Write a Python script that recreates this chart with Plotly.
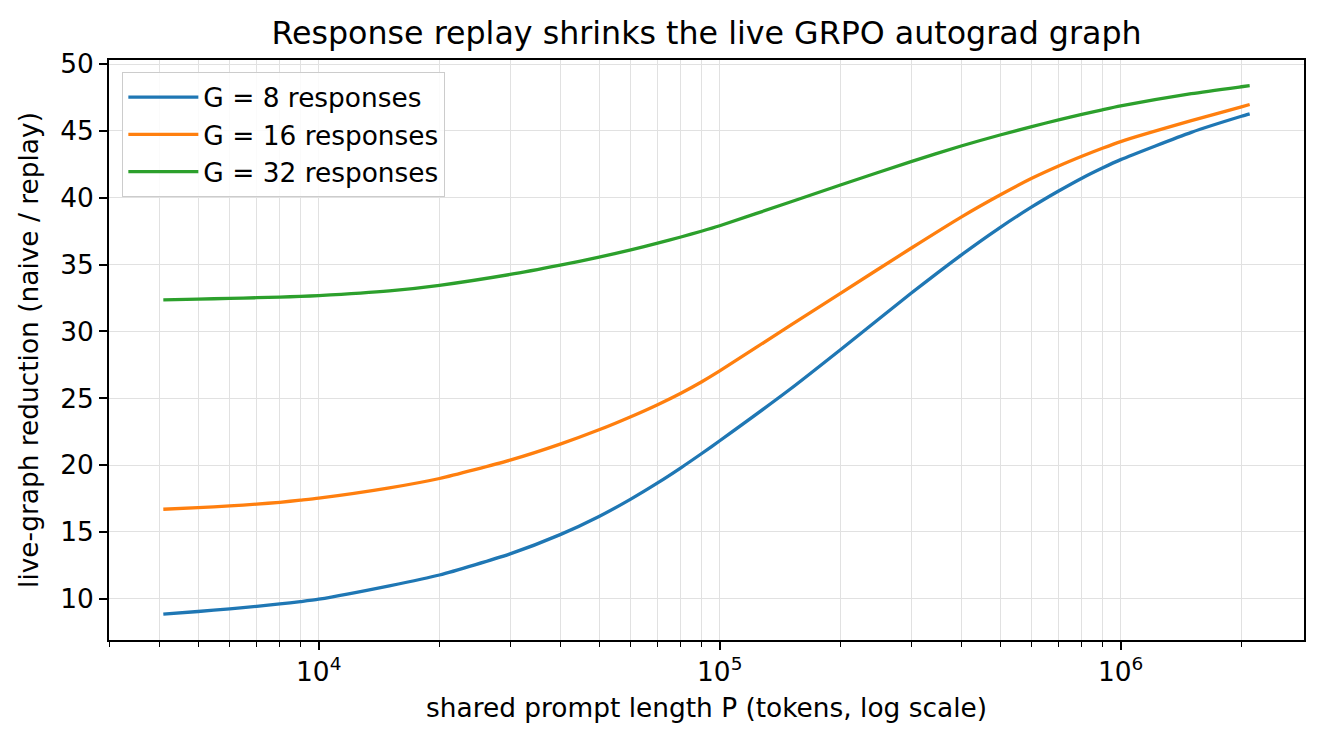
import plotly.graph_objects as go


# shared prompt length P (tokens)
prompt_len = [4096, 5000, 6000, 7000, 8000, 9000, 10000, 15000, 20000, 30000,
              40000, 50000, 60000, 70000, 80000, 90000, 100000, 150000, 200000, 300000,
              400000, 500000, 600000, 700000, 800000, 900000, 1000000, 1500000, 2000000, 2097152]

# live-graph reduction (naive / replay)
g8 = [8.85, 9.05, 9.25, 9.44, 9.62, 9.79, 9.97, 10.97, 11.78, 13.36,
      14.8, 16.16, 17.46, 18.67, 19.8, 20.85, 21.82, 25.69, 28.63, 32.85,
      35.71, 37.77, 39.31, 40.5, 41.46, 42.22, 42.85, 44.89, 46.09, 46.27]
g16 = [16.7, 16.82, 16.95, 17.08, 17.22, 17.38, 17.53, 18.3, 19.0, 20.37,
       21.57, 22.64, 23.62, 24.52, 25.38, 26.22, 27.05, 30.45, 32.85, 36.22,
       38.55, 40.2, 41.45, 42.37, 43.1, 43.7, 44.2, 45.76, 46.8, 46.97]
g32 = [32.36, 32.42, 32.47, 32.52, 32.57, 32.62, 32.68, 33.03, 33.45, 34.26,
       34.96, 35.55, 36.1, 36.6, 37.06, 37.49, 37.9, 39.68, 40.95, 42.7,
       43.87, 44.69, 45.32, 45.82, 46.23, 46.57, 46.86, 47.78, 48.3, 48.38]

series_names = ["G = 8 responses", "G = 16 responses", "G = 32 responses"]
series_colors = ["#1f77b4", "#ff7f0e", "#2ca02c"]

x_major = [1e4, 1e5, 1e6]
x_major_text = ["10<sup>4</sup>", "10<sup>5</sup>", "10<sup>6</sup>"]
x_minor = [3000, 4000, 5000, 6000, 7000, 8000, 9000,
           20000, 30000, 40000, 50000, 60000, 70000, 80000, 90000,
           200000, 300000, 400000, 500000, 600000, 700000, 800000, 900000,
           2000000]
y_ticks = [10, 15, 20, 25, 30, 35, 40, 45, 50]

FONT = "DejaVu Sans"
GRID = "#e1e1e1"
FS = 26.4  # ticks, axis titles, legend (same size, like matplotlib's default)
OFF = 8    # the page body adds an 8px margin, so pull the figure back by it

fig = go.Figure()
for name, color, vals in zip(series_names, series_colors, [g8, g16, g32]):
    fig.add_trace(go.Scatter(
        x=prompt_len, y=vals, mode="lines", name=name,
        line=dict(color=color, width=3.3, shape="spline", smoothing=0.6),
    ))

fig.update_xaxes(
    type="log",
    range=[3.4769, 6.4571],
    tickmode="array", tickvals=x_major, ticktext=x_major_text,
    ticks="outside", ticklen=8, tickwidth=1.6, tickcolor="black",
    showgrid=True, gridcolor=GRID, gridwidth=1.2,
    minor=dict(tickmode="array", tickvals=x_minor, ticks="outside", ticklen=5,
               tickwidth=1.2, tickcolor="black", showgrid=True, gridcolor=GRID, gridwidth=1.2),
    showline=True, linecolor="black", linewidth=1.6, mirror=True,
    zeroline=False,
    title=dict(text="shared prompt length P (tokens, log scale)", font=dict(size=FS), standoff=12),
    tickfont=dict(size=FS),
)
fig.update_yaxes(
    range=[6.92, 50.3],
    tickmode="array", tickvals=y_ticks,
    ticks="outside", ticklen=8, tickwidth=1.6, tickcolor="black",
    showgrid=True, gridcolor=GRID, gridwidth=1.2,
    showline=True, linecolor="black", linewidth=1.6, mirror=True,
    zeroline=False,
    title=dict(text="live-graph reduction (naive / replay)", font=dict(size=FS), standoff=14),
    tickfont=dict(size=FS),
)

fig.update_layout(
    width=1324, height=744,
    margin=dict(l=109 - OFF, r=20 + OFF, t=60 - OFF, b=104 + OFF),
    paper_bgcolor="white", plot_bgcolor="white",
    font=dict(family=FONT, color="black", size=FS),
    title=dict(text="Response replay shrinks the live GRPO autograd graph",
               x=(706.5 - OFF) / 1324, xanchor="center",
               y=1 - (33 - OFF) / 744, yanchor="middle",
               font=dict(size=31.7)),
    legend=dict(x=0.011, y=0.979, xanchor="left", yanchor="top",
                bgcolor="rgba(255,255,255,0.85)", bordercolor="#cccccc", borderwidth=1.2,
                font=dict(size=FS), itemwidth=70),
    showlegend=True,
)

fig.write_html("out.html")
